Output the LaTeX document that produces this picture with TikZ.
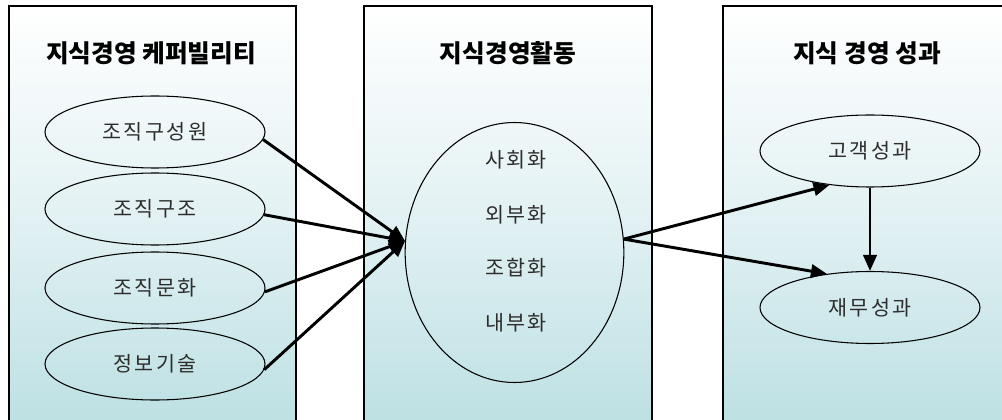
\documentclass[tikz,border=0pt]{standalone}
\usepackage{fontspec}
\usetikzlibrary{shapes.geometric,arrows.meta}
\newfontfamily\krtitle{Noto Sans CJK KR}
\newfontfamily\krbody[LetterSpace=12]{Noto Sans CJK KR}
\definecolor{panelbot}{RGB}{188,224,227}
\definecolor{panelmid}{RGB}{226,241,243}
\definecolor{bodytext}{RGB}{45,45,45}
\begin{document}
\begin{tikzpicture}[x=0.75pt,y=-0.75pt,
  panel/.style={draw=black,line width=1.1pt,top color=white,bottom color=panelbot,middle color=panelmid},
  ptitle/.style={font=\krtitle\bfseries\fontsize{18.5pt}{20pt}\selectfont,inner sep=0pt},
  oval/.style={ellipse,draw=black,line width=0.8pt,minimum width=165pt,minimum height=54pt,inner sep=0pt,
    font=\krbody\fontsize{15.5pt}{17pt}\selectfont,text=bodytext},
  bigoval/.style={ellipse,draw=black,line width=0.8pt,minimum width=164pt,minimum height=195pt,inner sep=0pt},
  itemtxt/.style={font=\krbody\fontsize{15.5pt}{17pt}\selectfont,text=bodytext,inner sep=0pt},
  conn/.style={line width=2.2pt,-{Triangle[length=12pt,width=10pt]}},
]
\useasboundingbox (0,0) rectangle (1002,420);
\clip (0,0) rectangle (1002,420);
% panels
\path[panel] (9,6) rectangle (296,428);
\path[panel] (364,6) rectangle (652,428);
\path[panel] (723,6) rectangle (1012,428);
% titles
\node[ptitle] (t1) at (151,53) {지식경영 케퍼빌리티};
\node[ptitle] (t2) at (508,53) {지식경영활동};
\node[ptitle] (t3) at (867,53) {지식 경영 성과};
% left ellipses
\node[oval] (e1) at (155,132) {조직구성원};
\node[oval] (e2) at (155,209) {조직구조};
\node[oval] (e3) at (155,288) {조직문화};
\node[oval] (e4) at (155,364) {정보기술};
% middle ellipse
\node[bigoval] (act) at (514.5,252.5) {};
\node[itemtxt] (a1) at (516,160) {사회화};
\node[itemtxt] (a2) at (516,215) {외부화};
\node[itemtxt] (a3) at (516,268) {조합화};
\node[itemtxt] (a4) at (516,323) {내부화};
% right ellipses
\node[oval] (g1) at (870,151) {고객성과};
\node[oval] (g2) at (870,307.5) {재무성과};
% connectors
\coordinate (conv) at (act.174);
\draw[conn] (e1.-4) -- (conv);
\draw[conn] (e2.-3) -- (conv);
\draw[conn] (e3.-2) -- (conv);
\draw[conn] (e4.-3) -- (conv);
\draw[conn] (act.7) -- (g1.220);
\draw[conn] (act.7) -- (g2.142);
\draw[conn] (g1.south) -- (g2.north);
\end{tikzpicture}
\end{document}
